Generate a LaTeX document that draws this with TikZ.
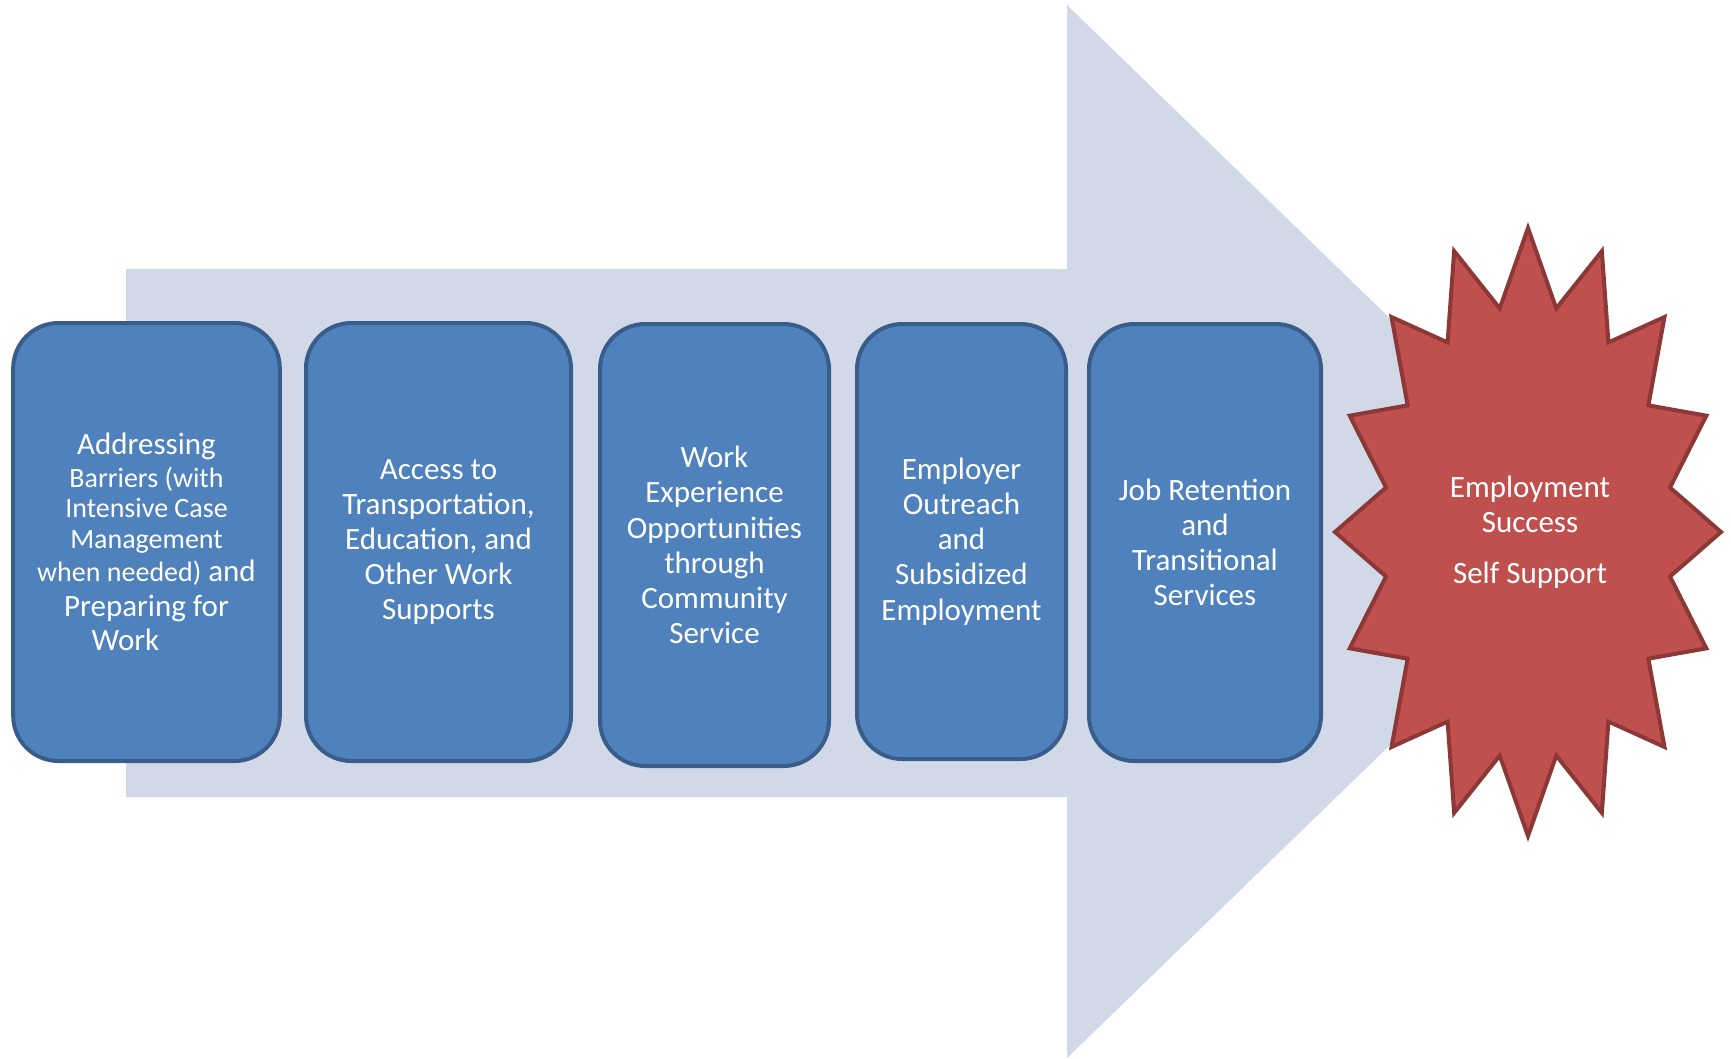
\documentclass[tikz,border=0pt]{standalone}
\usepackage{fontspec}
\setmainfont{Carlito}
\definecolor{boxfill}{HTML}{4F81BD}
\definecolor{boxline}{HTML}{385D8A}
\definecolor{arrowfill}{HTML}{D1D8E8}
\definecolor{starfill}{HTML}{C0504D}
\definecolor{starline}{HTML}{8C3836}
\tikzset{
    stage/.style={draw=boxline, fill=boxfill, line width=3pt, rounded corners=34pt,
        text=white, align=center, inner sep=0pt,
        font=\fontsize{23.25}{26.4}\selectfont},
}
\newcommand{\smalltxt}[1]{{\fontsize{21}{23}\selectfont #1}}
\begin{document}
\begin{tikzpicture}[x=0.75pt, y=-0.75pt]
    \useasboundingbox (0,0) rectangle (1731,1058);

    % Big arrow behind the steps
    \fill[arrowfill] (126,269) -- (1067,269) -- (1067,5) -- (1610,532)
        -- (1067,1058) -- (1067,797) -- (126,797) -- cycle;

    % Steps
    \node[stage, minimum width=200pt, minimum height=328.5pt] (barriers) at (146.5,542)
        {Addressing\\[-1.5pt]\smalltxt{Barriers (with}\\[-4pt]\smalltxt{Intensive Case}\\[-3.5pt]
         \smalltxt{Management}\\[-1.5pt]\smalltxt{when needed)} and\\Preparing for\\[-1pt]
         Work\hspace*{31.5pt}};
    \node[stage, minimum width=198.75pt, minimum height=328.5pt] (access) at (438.5,542)
        {Access to\\Transportation,\\Education, and\\Other Work\\Supports};
    \node[stage, minimum width=171.75pt, minimum height=331.5pt] (experience) at (714.5,545)
        {Work\\Experience\\Opportunities\\through\\Community\\Service};
    \node[stage, minimum width=156.75pt, minimum height=326.25pt] (outreach) at (961.5,541.5)
        {Employer\\Outreach\\and\\Subsidized\\Employment};
    \node[stage, minimum width=174pt, minimum height=327.75pt] (retention) at (1205,542.5)
        {Job Retention\\and\\Transitional\\Services};

    % Goal: sixteen-point star
    \filldraw[fill=starfill, draw=starline, line width=3pt]
        plot[samples at={0,...,31}, variable=\k]
        ({1528 + 193*(1-0.25*mod(\k,2))*sin(11.25*\k)}, {532 - 304*(1-0.25*mod(\k,2))*cos(11.25*\k)})
        -- cycle;
    \node[text=white, align=center, font=\fontsize{23.25}{26.4}\selectfont] (success) at (1530,532)
        {Employment\\Success\\[12pt]Self Support};
\end{tikzpicture}
\end{document}
